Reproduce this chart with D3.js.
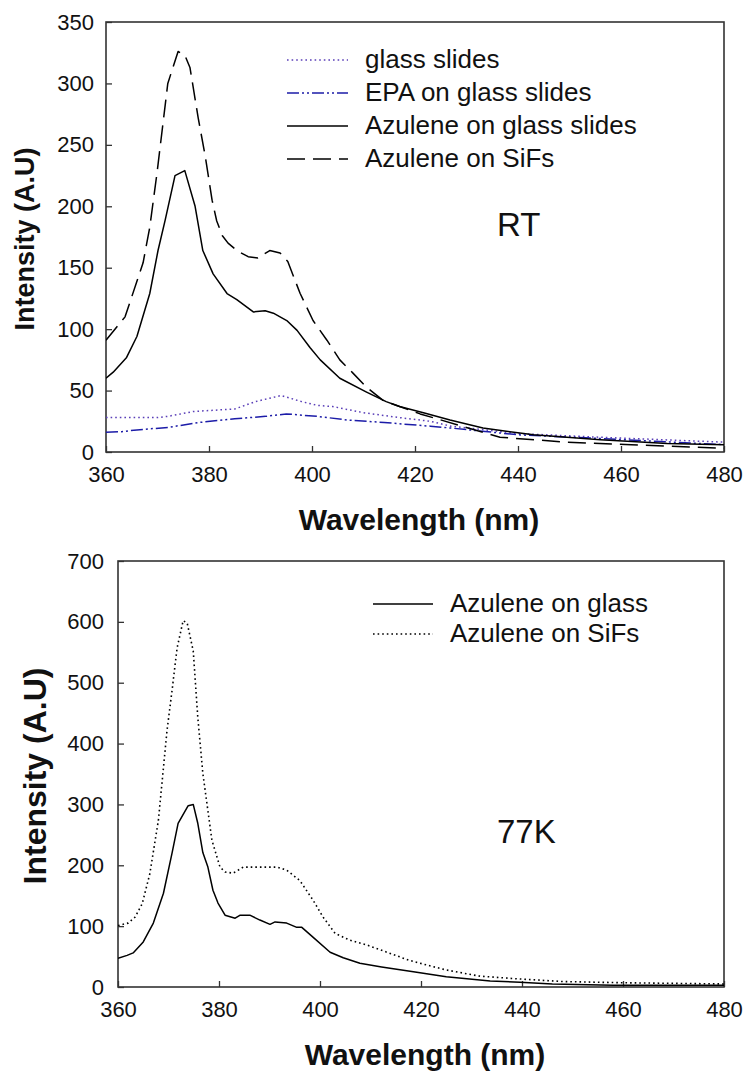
<!DOCTYPE html>
<html>
<head>
<meta charset="utf-8">
<script src="https://cdn.jsdelivr.net/npm/d3@7"></script>
<style>
  html, body { margin: 0; padding: 0; background: #fff; }
  svg { display: block; font-family: "Liberation Sans", Arial, sans-serif; }
</style>
</head>
<body>
<svg id="chart" width="754" height="1085"></svg>
<script>
// ---------- Data ----------
const xTicks = [360, 380, 400, 420, 440, 460, 480];
const yTicksRT = [0, 50, 100, 150, 200, 250, 300, 350];
const yTicks77K = [0, 100, 200, 300, 400, 500, 600, 700];

// RT panel
const rtGlassWl = [360, 365, 370, 372, 377, 385, 389, 394, 398, 401, 404, 410, 417, 423, 427, 440, 456, 480];
const rtGlassI  = [28, 28, 28, 29, 33, 35, 41, 46, 41, 38, 37, 32, 28, 25, 21, 15, 12, 8];

const rtEpaWl = [360, 363, 366, 372, 378, 385, 391, 395, 401, 407, 414, 417, 423, 427, 440, 456, 480];
const rtEpaI  = [16, 16.5, 18, 20, 24, 27, 29, 31, 29, 26, 24, 23, 21, 19.5, 14, 11, 6];

const rtAzGlassWl = [360, 361.4, 364, 366, 368.5, 370.1, 371.5, 373.4, 375.3, 377.3, 378.8, 380.8, 383.5, 385.4, 388.6, 390.9, 392.5, 395.1, 397.1, 399.6, 401.6, 405.4, 410.5, 414.4, 417, 422, 426.8, 433.2, 443, 456, 469, 480];
const rtAzGlassI  = [60, 65, 77, 94, 129, 164, 189, 225, 229, 200, 164, 145, 129, 124, 114, 115, 113, 107, 99, 85, 75, 60, 49, 41, 37, 31.5, 26, 19.5, 14, 10, 7, 6];

const rtAzSiFsWl = [360, 363.7, 367.2, 368.5, 369.9, 372, 374, 375.3, 376.3, 377.9, 379.3, 380.6, 381.5, 382.6, 383.7, 385.4, 387.6, 389.5, 391.8, 393.8, 395.3, 397.7, 400.2, 402.9, 405.4, 408, 410.5, 413.8, 417, 421, 436.5, 449.5, 462, 480];
const rtAzSiFsI  = [91, 110, 154, 183, 227, 300, 326, 323, 313, 272, 240, 205, 188, 176, 170, 164, 159, 158, 164, 162, 155, 129, 107, 91, 75, 64, 53, 42, 37, 31, 12, 8, 6, 3];

// 77K panel
const k77GlassWl = [360, 361.8, 363, 365, 367, 369, 370.7, 371.9, 373.9, 374.9, 375.8, 376.8, 377.8, 378.8, 379.8, 381.2, 383.2, 384.2, 386.1, 388.1, 390.1, 391.1, 393.4, 395.4, 396.4, 398.6, 402, 404.6, 407.9, 412.2, 418.5, 425, 433.7, 439.6, 446, 458, 480];
const k77GlassI  = [47, 52, 56, 74, 105, 154, 220, 269, 298, 300, 269, 221, 197, 159, 138, 118, 113, 118, 118, 110, 103, 107, 105, 98, 98, 82, 57, 48, 39, 33, 25, 17, 10, 8, 5, 3, 3];

const k77SiFsWl = [360, 362, 363.4, 364.8, 366.3, 368, 369.7, 370.7, 371.7, 372.9, 373.7, 374.9, 375.8, 376.8, 378.6, 380.2, 381.2, 382.8, 384.8, 388.1, 391.5, 393.4, 396, 398.6, 400.6, 403, 405.9, 409.3, 413.3, 417.6, 421.2, 425, 431.5, 438, 448, 460, 480];
const k77SiFsI  = [101, 105, 115, 137, 186, 274, 421, 487, 557, 602, 598, 552, 443, 351, 241, 197, 189, 187, 197, 197, 197, 192, 175, 143, 115, 88, 77, 69, 57, 44, 36, 28, 18, 14, 9, 7, 5];

const rtLegend = ["glass slides", "EPA on glass slides", "Azulene on glass slides", "Azulene on SiFs"];
const k77Legend = ["Azulene on glass", "Azulene on SiFs"];

// ---------- Styles ----------
const styles = {
  glass:  { stroke: "#5a3fb8", width: 1.5, dash: "1.6,3" },
  epa:    { stroke: "#1c1ca8", width: 1.5, dash: "12,3,2,3,2,3" },
  solid:  { stroke: "#000", width: 1.5, dash: null },
  dashed: { stroke: "#000", width: 1.5, dash: "18,8" },
  dotted: { stroke: "#000", width: 1.6, dash: "1.6,3" }
};

const svg = d3.select("#chart");
const zip = (a, b) => a.map((v, i) => [v, b[i]]);

function panel(cfg) {
  const x = d3.scaleLinear().domain([360, 480]).range([cfg.left, cfg.right]);
  const y = d3.scaleLinear().domain([0, cfg.ymax]).range([cfg.bottom, cfg.top]);
  const g = svg.append("g");

  const xAxis = d3.axisBottom(x).tickValues(xTicks).tickSize(-6).tickPadding(14).tickFormat(d3.format("d"));
  const gx = g.append("g").attr("transform", `translate(0,${cfg.bottom})`).call(xAxis);
  const yAxis = d3.axisLeft(y).tickValues(cfg.yTicks).tickSize(-6).tickPadding(cfg.yPad).tickFormat(d3.format("d"));
  const gy = g.append("g").attr("transform", `translate(${cfg.left},0)`).call(yAxis);
  [gx, gy].forEach(a => {
    a.select(".domain").remove();
    a.selectAll(".tick line").attr("stroke", "#333").attr("stroke-width", 1.3);
    a.selectAll(".tick text").attr("font-size", 22).attr("fill", "#111")
      .attr("font-family", "Liberation Sans, Arial, sans-serif");
  });
  gx.selectAll(".tick text").attr("dy", "0.71em");

  g.append("rect").attr("x", cfg.left).attr("y", cfg.top)
    .attr("width", cfg.right - cfg.left).attr("height", cfg.bottom - cfg.top)
    .attr("fill", "none").attr("stroke", "#333").attr("stroke-width", 1.6);

  const clipId = "clip" + cfg.id;
  svg.append("clipPath").attr("id", clipId).append("rect")
    .attr("x", cfg.left).attr("y", cfg.top - 2)
    .attr("width", cfg.right - cfg.left).attr("height", cfg.bottom - cfg.top + 2);

  const line = d3.line().x(d => x(d[0])).y(d => y(d[1]));
  cfg.series.forEach(s => {
    const st = styles[s.style];
    g.append("path").datum(zip(s.wl, s.val))
      .attr("clip-path", `url(#${clipId})`)
      .attr("d", line).attr("fill", "none")
      .attr("stroke", st.stroke).attr("stroke-width", st.width)
      .attr("stroke-dasharray", st.dash)
      .attr("stroke-linejoin", "round");
  });

  cfg.legend.forEach((name, i) => {
    const st = styles[cfg.series[i].style];
    const ly = cfg.legY + i * cfg.legStep;
    g.append("line").attr("x1", cfg.legX).attr("x2", cfg.legX + cfg.legLen)
      .attr("y1", ly).attr("y2", ly)
      .attr("stroke", st.stroke).attr("stroke-width", st.width).attr("stroke-dasharray", st.dash);
    g.append("text").attr("x", cfg.legTextX).attr("y", ly + 8)
      .attr("font-size", cfg.legFont).attr("fill", "#111").text(name);
  });

  g.append("text").attr("x", (cfg.left + cfg.right) / 2 + 4).attr("y", cfg.bottom + 78)
    .attr("text-anchor", "middle").attr("font-weight", "bold").attr("font-size", 30)
    .attr("fill", "#111").text("Wavelength (nm)");
  g.append("text")
    .attr("transform", `translate(${cfg.yTitleX},${(cfg.top + cfg.bottom) / 2 + 2}) rotate(-90)`)
    .attr("text-anchor", "middle").attr("font-weight", "bold").attr("font-size", cfg.yTitleFont)
    .attr("fill", "#111").text("Intensity (A.U)");

  g.append("text").attr("x", cfg.annX).attr("y", cfg.annY)
    .attr("font-size", 33).attr("fill", "#111").text(cfg.ann);
}

panel({
  id: "rt", left: 106, right: 724, top: 22, bottom: 452, ymax: 350, yTicks: yTicksRT, yPad: 12,
  series: [
    { wl: rtGlassWl, val: rtGlassI, style: "glass" },
    { wl: rtEpaWl, val: rtEpaI, style: "epa" },
    { wl: rtAzGlassWl, val: rtAzGlassI, style: "solid" },
    { wl: rtAzSiFsWl, val: rtAzSiFsI, style: "dashed" }
  ],
  legend: rtLegend, legX: 287, legLen: 61, legTextX: 365, legY: 60, legStep: 33, legFont: 26,
  yTitleX: 34, yTitleFont: 27, ann: "RT", annX: 497, annY: 236
});

panel({
  id: "k77", left: 118, right: 724, top: 561, bottom: 987, ymax: 700, yTicks: yTicks77K, yPad: 14,
  series: [
    { wl: k77GlassWl, val: k77GlassI, style: "solid" },
    { wl: k77SiFsWl, val: k77SiFsI, style: "dotted" }
  ],
  legend: k77Legend, legX: 373, legLen: 60, legTextX: 450, legY: 604, legStep: 30, legFont: 26,
  yTitleX: 46, yTitleFont: 32, ann: "77K", annX: 497, annY: 843
});
</script>
</body>
</html>
